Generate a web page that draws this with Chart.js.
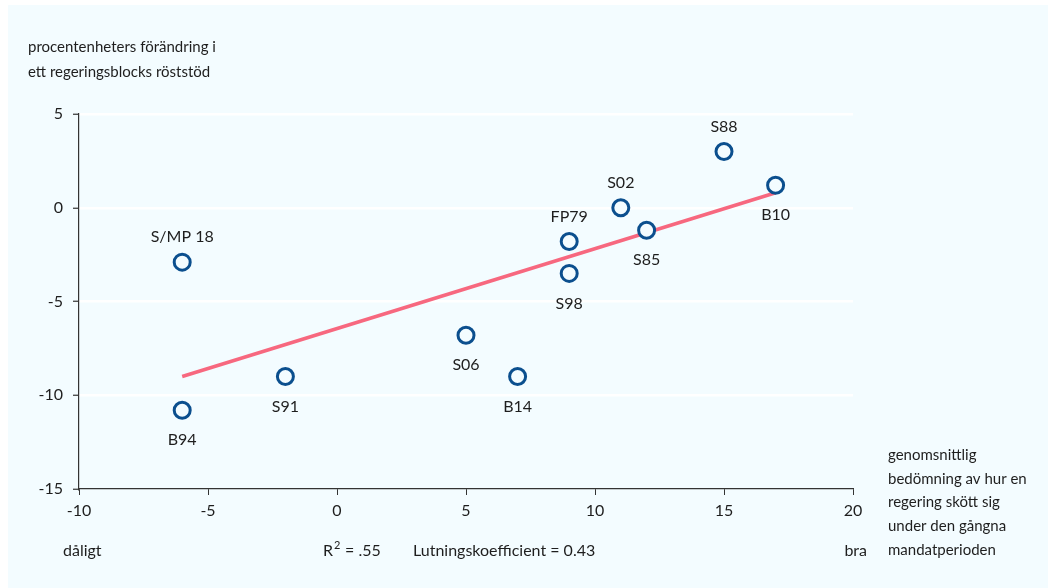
<!DOCTYPE html>
<html>
<head>
<meta charset="utf-8">
<script src="https://cdn.jsdelivr.net/npm/chart.js@4"></script>
<style>
  html, body { margin: 0; padding: 0; background: #ffffff; }
  canvas { display: block; }
</style>
</head>
<body>
<canvas id="chart" width="1048" height="588"></canvas>
<script>
// Regeringsblock: betyg vs förändring i röststöd
const partyLabels = ['S/MP 18', 'B94', 'S91', 'S06', 'B14', 'FP79', 'S98', 'S02', 'S85', 'S88', 'B10'];
const ratingX = [-6, -6, -2, 5, 7, 9, 9, 11, 12, 15, 17];
const voteChangeY = [-2.9, -10.8, -9, -6.8, -9, -1.8, -3.5, 0, -1.2, 3, 1.2];
const trendX = [-6, 17];
const trendY = [-9, 0.8];
const xTicks = [-10, -5, 0, 5, 10, 15, 20];
const yTicks = [-15, -10, -5, 0, 5];

const FONT = 'Lato, "Open Sans", sans-serif';
const TEXT = '#1e1e1e';
const PANEL = '#f3fcff';
const labelsBelow = ['B94', 'S91', 'S06', 'B14', 'S98', 'S85', 'B10'];

const panelBg = {
    id: 'panelBg',
    beforeDraw(chart) {
        const ctx = chart.ctx;
        ctx.save();
        ctx.fillStyle = PANEL;
        ctx.fillRect(8, 5, chart.width - 8, chart.height - 5);
        ctx.restore();
    }
};

const pointLabels = {
    id: 'pointLabels',
    afterDatasetsDraw(chart) {
        const ctx = chart.ctx;
        const meta = chart.getDatasetMeta(0);
        ctx.save();
        ctx.font = '16px ' + FONT;
        ctx.fillStyle = TEXT;
        ctx.textAlign = 'center';
        ctx.textBaseline = 'middle';
        meta.data.forEach((pt, i) => {
            const name = partyLabels[i];
            const dy = labelsBelow.includes(name) ? 30 : -25;
            ctx.fillText(name, pt.x, pt.y + dy);
        });
        ctx.restore();
    }
};

const extraText = {
    id: 'extraText',
    afterDraw(chart) {
        const ctx = chart.ctx;
        ctx.save();
        ctx.fillStyle = TEXT;
        ctx.textBaseline = 'middle';
        ctx.font = '15px ' + FONT;
        ctx.textAlign = 'left';
        ctx.fillText('procentenheters förändring i', 28, 47);
        ctx.fillText('ett regeringsblocks röststöd', 28, 72);

        const right = ['genomsnittlig', 'bedömning av hur en', 'regering skött sig', 'under den gångna', 'mandatperioden'];
        right.forEach((t, i) => ctx.fillText(t, 888, 455 + i * 23.7));

        ctx.font = '16px ' + FONT;
        ctx.fillText('dåligt', 63, 551);
        ctx.fillText('R', 323, 551);
        ctx.font = '11px ' + FONT;
        ctx.fillText('2', 334, 545);
        ctx.font = '16px ' + FONT;
        ctx.fillText('= .55', 345, 551);
        ctx.fillText('Lutningskoefficient = 0.43', 413, 551);
        ctx.textAlign = 'right';
        ctx.fillText('bra', 867, 551);
        ctx.restore();
    }
};

new Chart(document.getElementById('chart'), {
    type: 'scatter',
    data: {
        datasets: [{
            label: 'Regeringar',
            data: ratingX.map((x, i) => ({ x: x, y: voteChangeY[i] })),
            borderColor: '#0b4f8e',
            backgroundColor: PANEL,
            borderWidth: 3,
            pointRadius: 8,
            pointHoverRadius: 8,
            order: 0
        }, {
            type: 'line',
            label: 'Trend',
            data: trendX.map((x, i) => ({ x: x, y: trendY[i] })),
            borderColor: '#f7687f',
            borderWidth: 3.5,
            pointRadius: 0,
            fill: false,
            order: 1
        }]
    },
    options: {
        responsive: false,
        animation: false,
        layout: { padding: { top: 114, right: 195, left: 0, bottom: 0 } },
        plugins: {
            legend: { display: false },
            tooltip: { enabled: false }
        },
        scales: {
            x: {
                type: 'linear',
                min: -10,
                max: 20,
                afterBuildTicks: s => { s.ticks = xTicks.map(v => ({ value: v })); },
                afterFit: s => { s.height = 99; },
                grid: { drawOnChartArea: false, drawTicks: true, tickLength: 6, tickColor: '#333', color: '#333' },
                border: { display: true, color: '#333', width: 1.2 },
                ticks: { color: TEXT, font: { family: FONT, size: 16 }, padding: 6, maxRotation: 0 }
            },
            y: {
                type: 'linear',
                min: -15,
                max: 5,
                afterBuildTicks: s => { s.ticks = yTicks.map(v => ({ value: v })); },
                afterFit: s => { s.width = 79; },
                grid: {
                    color: ctx => ctx.tick && ctx.tick.value === -15 ? 'rgba(0,0,0,0)' : '#ffffff',
                    lineWidth: 2.5,
                    drawTicks: true,
                    tickLength: 6,
                    tickColor: '#333',
                    tickWidth: 1.2
                },
                border: { display: true, color: '#333', width: 1.2 },
                ticks: { color: TEXT, font: { family: FONT, size: 16 }, padding: 10 }
            }
        }
    },
    plugins: [panelBg, pointLabels, extraText]
});
</script>
</body>
</html>
